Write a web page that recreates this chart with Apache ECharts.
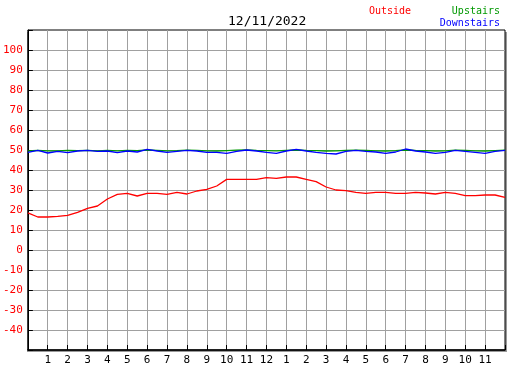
<!DOCTYPE html>
<html>
<head>
<meta charset="utf-8">
<script src="https://cdn.jsdelivr.net/npm/echarts@6/dist/echarts.min.js"></script>
<style>
html, body { margin: 0; padding: 0; background: #fff; }
#chart { width: 527px; height: 370px; }
</style>
</head>
<body>
<div id="chart"></div>
<script>
// readings, hours since midnight
var hours = [0, 0.5, 1, 1.5, 2, 2.5, 3, 3.5, 4, 4.5, 5, 5.5, 6, 6.5, 7, 7.5, 8, 8.5, 9, 9.5,
  10, 10.5, 11, 11.5, 12, 12.5, 13, 13.5, 14, 14.5, 15, 15.5, 16, 16.5, 17, 17.5, 18, 18.5, 19, 19.5,
  20, 20.5, 21, 21.5, 22, 22.5, 23, 23.5, 24];

var outside = [18.6, 16.5, 16.5, 16.8, 17.3, 18.8, 20.8, 22, 25.5, 27.8, 28.3, 27, 28.3, 28.3, 27.8, 28.8,
  28, 29.5, 30.3, 32, 35.3, 35.3, 35.3, 35.3, 36.2, 35.8, 36.5, 36.5, 35.3, 34.2, 31.5, 30, 29.7, 28.8,
  28.3, 28.8, 28.8, 28.3, 28.3, 28.8, 28.5, 28, 28.8, 28.3, 27.2, 27.2, 27.5, 27.5, 26.3];

var upstairs = [49.5, 49.8, 49.6, 49.5, 49.8, 49.7, 49.8, 49.6, 49.8, 49.6, 49.8, 49.7, 50, 49.8, 49.6, 49.7,
  49.9, 49.8, 49.6, 49.5, 49.7, 49.9, 50, 49.8, 49.7, 49.6, 49.8, 50, 49.8, 49.7, 49.5, 49.6, 49.8, 49.9,
  49.8, 49.6, 49.5, 49.7, 50, 49.8, 49.7, 49.5, 49.6, 49.9, 49.8, 49.6, 49.5, 49.7, 49.9];

var downstairs = [48.8, 49.8, 48.5, 49.3, 48.7, 49.5, 49.8, 49.3, 49.5, 48.7, 49.5, 49, 50.3, 49.5, 48.8, 49.3,
  49.8, 49.5, 48.8, 48.8, 48.3, 49.3, 50, 49.5, 48.8, 48.3, 49.5, 50.3, 49.5, 48.8, 48.3, 48, 49.3, 49.8,
  49.3, 49, 48.3, 49, 50.5, 49.5, 49, 48.3, 48.8, 49.8, 49.3, 48.8, 48.3, 49.3, 49.8];

// clock labels for hours 0..24
var hourLabels = ['', '1', '2', '3', '4', '5', '6', '7', '8', '9', '10', '11', '12',
  '1', '2', '3', '4', '5', '6', '7', '8', '9', '10', '11', ''];

var font = '"DejaVu Sans Mono", monospace';

function pairs(vals) {
  return hours.map(function (h, i) { return [h, vals[i]]; });
}

var chart = echarts.init(document.getElementById('chart'));
chart.setOption({
  animation: false,
  title: {
    text: '12/11/2022',
    left: 223,
    top: 10,
    textStyle: { fontFamily: font, fontSize: 13, fontWeight: 'normal', color: '#000' }
  },
  graphic: [
    // drop shadow of the plot frame
    { type: 'rect', z: -10, shape: { x: 27, y: 32, width: 480, height: 320 }, style: { fill: '#999' } },
    { type: 'text', left: 369, top: 6, style: { text: 'Outside', fill: '#ff0000', font: '10px ' + font } },
    { type: 'text', right: 27, top: 6, style: { text: 'Upstairs', fill: '#009900', font: '10px ' + font } },
    { type: 'text', right: 27, top: 18, style: { text: 'Downstairs', fill: '#0000ff', font: '10px ' + font } }
  ],
  grid: {
    left: 25, top: 30, width: 480, height: 320,
    show: true,
    backgroundColor: '#fff',
    borderColor: '#000',
    borderWidth: 1,
    z: 0
  },
  xAxis: {
    type: 'value',
    min: 0, max: 24, interval: 1,
    axisLine: { onZero: false, lineStyle: { color: '#000', width: 1.5 } },
    axisTick: { inside: true, length: 5, lineStyle: { color: '#000' } },
    axisLabel: {
      color: '#000', fontFamily: font, fontSize: 11, margin: 5,
      formatter: function (v) { return hourLabels[v]; }
    },
    splitLine: { show: true, showMinLine: false, showMaxLine: false, lineStyle: { color: '#a0a0a0' } }
  },
  yAxis: {
    type: 'value',
    min: -50, max: 110, interval: 10,
    axisLine: { show: true, onZero: false, lineStyle: { color: '#000' } },
    axisTick: { show: true, inside: true, length: 5, lineStyle: { color: '#000' } },
    axisLabel: {
      color: '#ff0000', fontFamily: font, fontSize: 11, margin: 5,
      formatter: function (v) { return (v <= -50 || v >= 110) ? '' : v; }
    },
    splitLine: { show: true, showMinLine: false, showMaxLine: false, lineStyle: { color: '#a0a0a0' } }
  },
  series: [
    { name: 'Outside', type: 'line', data: pairs(outside), showSymbol: false,
      lineStyle: { color: '#ff0000', width: 1.3 } },
    { name: 'Upstairs', type: 'line', data: pairs(upstairs), showSymbol: false,
      lineStyle: { color: '#009900', width: 1.3 } },
    { name: 'Downstairs', type: 'line', data: pairs(downstairs), showSymbol: false,
      lineStyle: { color: '#0000ff', width: 1.3 } }
  ]
});
</script>
</body>
</html>
